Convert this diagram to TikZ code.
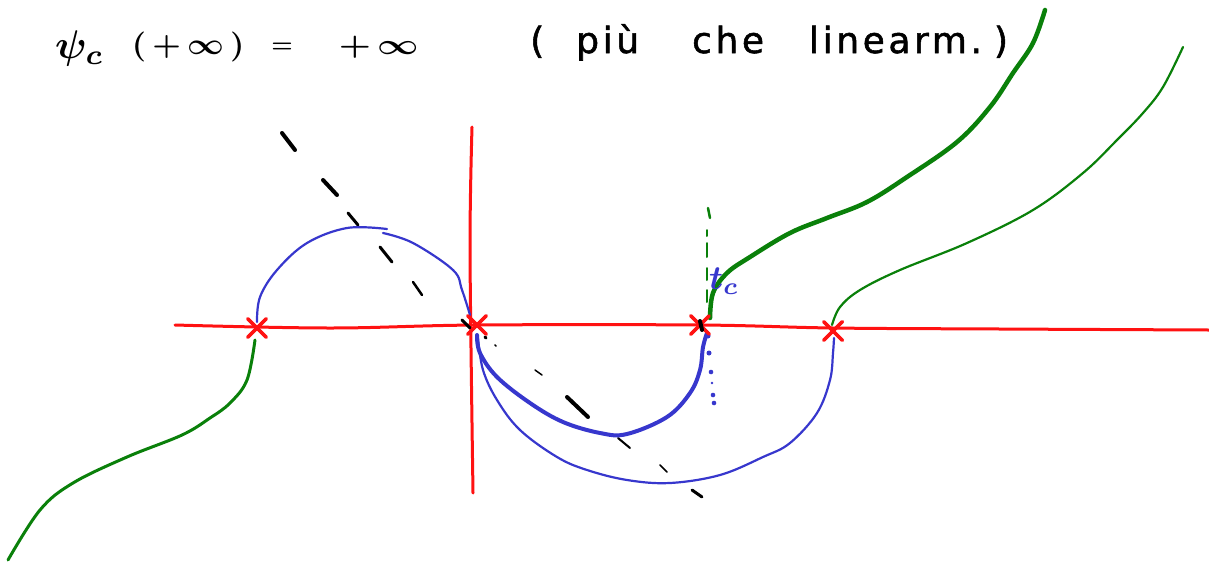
\documentclass[tikz,border=0pt]{standalone}
\usepackage{fontspec}
\newfontfamily\handfont[LetterSpace=10,FakeBold=1.5]{DejaVu Sans}
\usetikzlibrary{shapes.misc}
\definecolor{penred}{RGB}{255,18,18}
\definecolor{pengreen}{RGB}{10,128,10}
\definecolor{penblue}{RGB}{55,55,205}
\begin{document}
\begin{tikzpicture}[x=1pt,y=-1pt,
  redline/.style={draw=penred,line width=3pt,line cap=round},
  xmark/.style={cross out,draw=penred,line width=3.5pt,minimum size=15pt,inner sep=0pt,line cap=round},
  bluethin/.style={draw=penblue,line width=2.2pt,line cap=round},
  bluethick/.style={draw=penblue,line width=4pt,line cap=round},
  greenthin/.style={draw=pengreen,line width=2.2pt,line cap=round},
  greenmid/.style={draw=pengreen,line width=3pt,line cap=round},
  greenthick/.style={draw=pengreen,line width=4.5pt,line cap=round},
  blackdash/.style={draw=black,line cap=round},
  title/.style={inner sep=0pt,anchor=base west}]
\useasboundingbox (0,0) rectangle (1209,565);

% crosses (zeros)
\node[xmark] (x1) at (257,328) {};
\node[xmark] (x2) at (477,325) {};
\node[xmark] (x3) at (700,325) {};
\node[xmark] (x4) at (833,331) {};

% axes
\coordinate (axL) at (175,325);
\coordinate (axR) at (1209,330);
\coordinate (vT) at (472,127);
\coordinate (vB) at (473,493);
\draw[redline] plot[smooth,tension=0.6] coordinates {(axL) (330,328) (477,325) (700,325) (833,328) (1000,329) (axR)};
\draw[redline] plot[smooth] coordinates {(vT) (470,250) (vB)};

% black dashed curve
\draw[blackdash,line width=4pt] (282,133) -- (295,150);
\draw[blackdash,line width=4pt] (323,180) -- (337,195);
\draw[blackdash,line width=3pt] (348,213) -- (358,225);
\draw[blackdash,line width=3pt] (380,247) -- (392,262);
\draw[blackdash,line width=2.5pt] (413,282) -- (422,295);
\draw[blackdash,line width=3pt] (462,320) -- (470,328);
\draw[blackdash,line width=3pt] (485,337) -- (486,338);
\draw[blackdash,line width=1.5pt] (495,345) -- (496,346);
\draw[blackdash,line width=1.5pt] (535,370) -- (542,375);
\draw[blackdash,line width=4pt] (567,397) -- (588,417);
\draw[blackdash,line width=2pt] (618,438) -- (630,448);
\draw[blackdash,line width=1.5pt] (660,465) -- (667,472);
\draw[blackdash,line width=3pt] (692,490) -- (702,497);

% green left branch
\coordinate (gL) at (8,560);
\draw[greenmid] plot[smooth,tension=0.6] coordinates {(255,340) (247,380) (230,403) (210,418) (182,435) (127,457) (73,483) (40,510) (gL)};

% blue upper loop
\draw[bluethin] plot[smooth,tension=0.6] coordinates {(257,322) (260,297) (277,270) (307,243) (347,228) (387,229)};
\draw[bluethin] plot[smooth,tension=0.6] coordinates {(383,233) (413,243) (453,270) (462,290) (470,315)};

% blue lower curves
\draw[bluethick] plot[smooth,tension=0.6] coordinates {(477,335) (480,353) (497,377) (530,403) (563,422) (600,433) (627,434) (667,417) (690,393) (700,370) (703,347) (707,333)};
\draw[bluethin] plot[smooth,tension=0.6] coordinates {(478,338) (483,370) (497,400) (520,430) (557,457) (587,470) (627,480) (670,483) (720,475) (763,457) (790,443) (817,413) (830,380) (833,353) (834,338)};

% blue dotted continuation
\foreach \p/\r in {{(708,336)}/2.5,{(709,353)}/2.5,{(711,372)}/2.3,{(712,383)}/1.3,{(713,395)}/2.3,{(714,403)}/2.3}
  \fill[penblue] \p circle (\r);

% green dash-dot vertical
\draw[greenthin,line width=2.5pt] (708,208) -- (710,218);
\draw[greenthin,line width=2pt] (707,230) -- (707,236);
\draw[greenthin,line width=2pt] (707,243) -- (707,257);
\draw[greenthin,line width=2pt] (707,268) -- (707,280);
\draw[greenthin,line width=2pt] (707,290) -- (707,302);

% green right branches
\coordinate (gT1) at (1045,10);
\coordinate (gT2) at (1183,47);
\draw[greenthick] plot[smooth,tension=0.6] coordinates {(710,318) (713,293) (727,273) (750,257) (790,233) (827,218) (867,202) (907,177) (957,142) (990,107) (1013,73) (1033,43) (gT1)};
\draw[greenthin] plot[smooth,tension=0.6] coordinates {(832,325) (840,307) (860,290) (900,270) (967,243) (1033,210) (1083,173) (1117,140) (1143,113) (1163,87) (gT2)};

% redraw crosses on top
\foreach \n in {x1,x2,x3,x4}
  \node[xmark] at (\n) {};
\draw[blackdash,line width=4pt] (700,321) -- (702,330);

% label tc
\node[title,text=penblue] (tc) at (709,289) {\scalebox{3.4}{\boldmath$t_c$}};

% title
\node[title] (formula) at (55,58)
  {\scalebox{4}{\boldmath$\psi_c$}\hspace{28pt}\raisebox{4pt}{\scalebox{3.2}[3.0]{\boldmath$(\,+\,\infty\,)$}}\hspace{27pt}\raisebox{6pt}{\scalebox{2.4}{\boldmath$=$}}\hspace{46pt}\raisebox{4pt}{\scalebox{3.6}[2.9]{\boldmath$+\,\infty$}}};
\node[title,font=\handfont\fontsize{36}{42}\selectfont] (note) at (530,53)
  {(\hspace{32pt}più\hspace{53pt}che\hspace{45pt}linearm.\hspace{12pt})};
\end{tikzpicture}
\end{document}
